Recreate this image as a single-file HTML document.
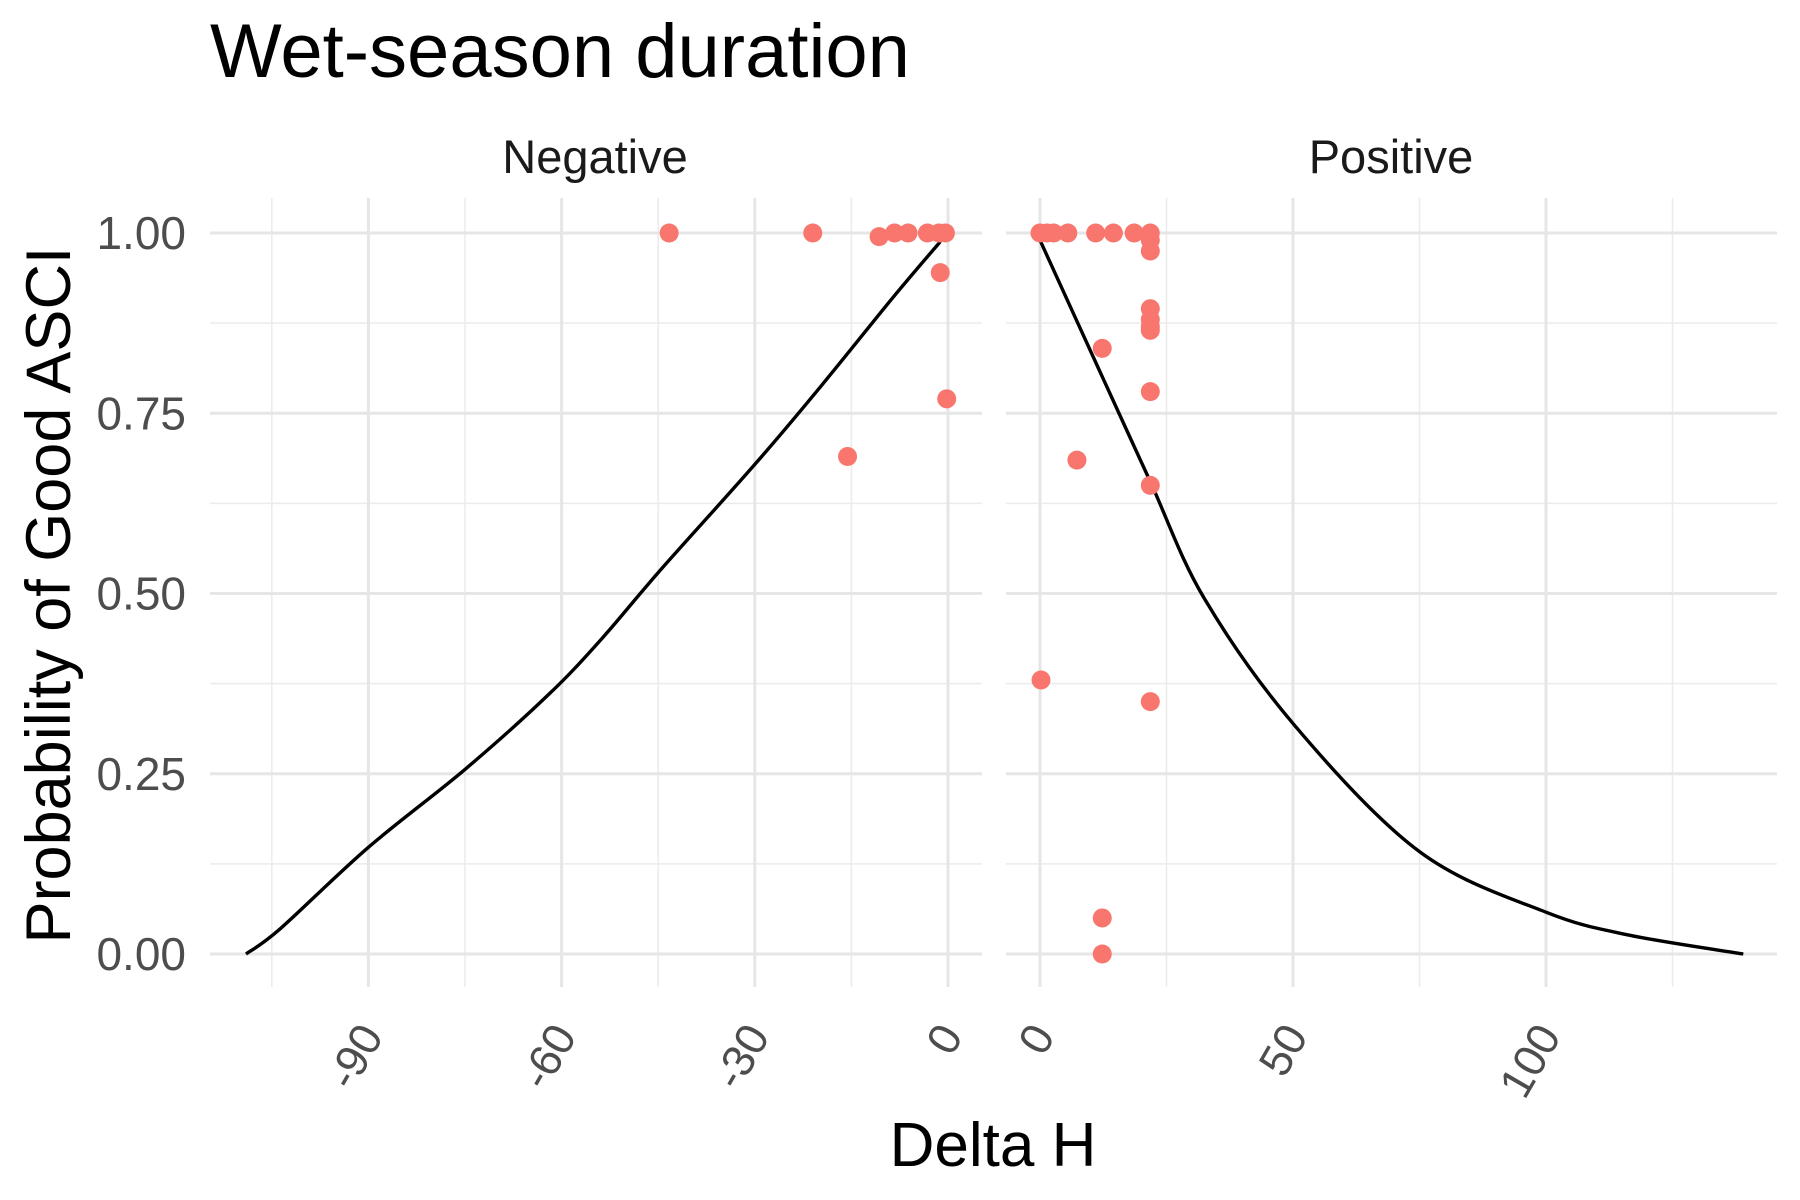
<!DOCTYPE html>
<html><head><meta charset="utf-8"><style>
html,body{margin:0;padding:0;background:#fff;}
svg{display:block;font-family:"Liberation Sans",Arial,sans-serif;}
</style></head><body>
<svg id="chart" width="1800" height="1200" viewBox="0 0 1800 1200">
<text x="210" y="77" font-size="76" fill="#000">Wet-season duration</text>
<text x="595" y="173" font-size="47" fill="#1a1a1a" text-anchor="middle">Negative</text>
<text x="1391" y="173" font-size="47" fill="#1a1a1a" text-anchor="middle">Positive</text>
<text transform="translate(70,595) rotate(-90)" font-size="63" fill="#000" text-anchor="middle">Probability of Good ASCI</text>
<text x="993" y="1166" font-size="62" fill="#000" text-anchor="middle">Delta H</text>
<g id="grid"></g><g id="lines"></g><g id="pts"></g><g id="labels"></g>
</svg>
<script>
const yTicks=[0,0.25,0.5,0.75,1.0];
const yTickLabels=["0.00","0.25","0.50","0.75","1.00"];
const negTicks=[-90,-60,-30,0];
const negMinor=[-105,-75,-45,-15];
const posTicks=[0,50,100];
const posMinor=[25,75,125];
const negCurveX=[-109,-103.7,-90,-75,-62,-53.7,-44.8,-30,-19.5,-8.6,-1.2];
const negCurveY=[0,0.035,0.148,0.256,0.36,0.438,0.531,0.679,0.79,0.91,0.988];
const posCurveX=[0,11.7,21.8,32.4,50.2,75,100,116.6,139];
const posCurveY=[0.99,0.81,0.655,0.494,0.318,0.142,0.058,0.026,0];
const negPtX=[-43.3,-21,-15.6,-10.7,-8.3,-6.2,-3.2,-1.4,-0.4,-1.2,-0.2];
const negPtY=[1.0,1.0,0.69,0.995,1.0,1.0,1.0,1.0,1.0,0.945,0.77];
const posPtX=[0,1.4,2.7,5.5,11,14.5,18.6,21.8,21.8,21.8,21.8,21.8,21.8,21.8,21.8,21.8,21.8,12.3,12.3,12.3,7.3,0.2];
const posPtY=[1,1,1,1,1,1,1,1,0.99,0.975,0.895,0.88,0.87,0.865,0.78,0.65,0.35,0.84,0.05,0,0.685,0.38];

const NS="http://www.w3.org/2000/svg";
const yS=v=>954-v*721;
const xN=v=>948+v*6.44;
const xP=v=>1040+v*5.06;
const panels=[{l:210,r:982,x:xN,t:negTicks,m:negMinor},{l:1006,r:1777,x:xP,t:posTicks,m:posMinor}];
function mk(tag,attrs,parent){const e=document.createElementNS(NS,tag);for(const k in attrs)e.setAttribute(k,attrs[k]);document.getElementById(parent).appendChild(e);return e;}
panels.forEach((p,pi)=>{
  [0.125,0.375,0.625,0.875].forEach(v=>{const e=mk('line',{x1:p.l,x2:p.r,y1:yS(v),y2:yS(v),stroke:'#ebebeb','stroke-width':1.5},'grid');
    
    });
  p.m.forEach(v=>{const e=mk('line',{x1:p.x(v),x2:p.x(v),y1:198,y2:987,stroke:'#ebebeb','stroke-width':1.5},'grid');
    
    });
  yTicks.forEach(v=>{const e=mk('line',{x1:p.l,x2:p.r,y1:yS(v),y2:yS(v),stroke:'#e6e6e6','stroke-width':3},'grid');
    
    });
  p.t.forEach(v=>{const e=mk('line',{x1:p.x(v),x2:p.x(v),y1:198,y2:987,stroke:'#e6e6e6','stroke-width':3},'grid');
    
    
    const t=mk('text',{transform:`translate(${p.x(v)+16},1036) rotate(-60)`,'text-anchor':'end','font-size':45,fill:'#4d4d4d'},'labels');
    t.textContent=String(v);
    
    });
});
yTicks.forEach((v,i)=>{const t=mk('text',{x:186,y:yS(v)+16,'text-anchor':'end','font-size':46,fill:'#4d4d4d'},'labels');
  t.textContent=yTickLabels[i];
  
  });
function curve(xs,ys,xf,name){
  const P=xs.map((x,i)=>[xf(x),yS(ys[i])]);
  let d='M'+P[0][0].toFixed(1)+','+P[0][1].toFixed(1);
  for(let i=0;i<P.length-1;i++){
    const p0=P[Math.max(0,i-1)],p1=P[i],p2=P[i+1],p3=P[Math.min(P.length-1,i+2)];
    const c1=[p1[0]+(p2[0]-p0[0])/6,p1[1]+(p2[1]-p0[1])/6];
    const c2=[p2[0]-(p3[0]-p1[0])/6,p2[1]-(p3[1]-p1[1])/6];
    d+=` C${c1[0].toFixed(1)},${c1[1].toFixed(1)} ${c2[0].toFixed(1)},${c2[1].toFixed(1)} ${p2[0].toFixed(1)},${p2[1].toFixed(1)}`;
  }
  const e=mk('path',{d:d,fill:'none',stroke:'#000','stroke-width':3.4},'lines');
  
  }
curve(negCurveX,negCurveY,xN,'negative-fit-line');
curve(posCurveX,posCurveY,xP,'positive-fit-line');
negPtX.forEach((x,i)=>{const c=mk('circle',{cx:xN(x),cy:yS(negPtY[i]),r:9.5,fill:'#F8766D'},'pts');
  
  });
posPtX.forEach((x,i)=>{const c=mk('circle',{cx:xP(x),cy:yS(posPtY[i]),r:9.5,fill:'#F8766D'},'pts');
  
  });
</script>
</body></html>
